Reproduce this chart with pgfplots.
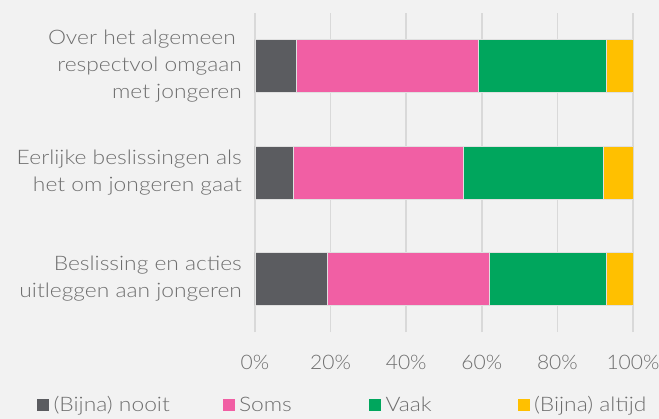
\documentclass[border=0pt]{standalone}
\usepackage{fontspec}
\setmainfont{Lato Light}[FakeStretch=1.14]
\newfontfamily\tickfont{Lato Light}[FakeStretch=1.05]
\usepackage{pgfplots}
\pgfplotsset{compat=1.18}
\usetikzlibrary{backgrounds}
\definecolor{bg}{HTML}{F2F2F2}
\definecolor{gridc}{HTML}{D9D9D9}
\definecolor{txt}{HTML}{6E6E6E}
\definecolor{cnooit}{HTML}{5B5C60}
\definecolor{csoms}{HTML}{F15FA4}
\definecolor{cvaak}{HTML}{00A65D}
\definecolor{caltijd}{HTML}{FFC000}
\newcommand{\lblfont}{\fontsize{20bp}{26.7bp}\selectfont}
\pgfplotsset{
  segment/.style={fill=#1, draw=white!88!black, line width=0.5bp,
    legend image code/.code={\fill[#1] (0bp,-5.5bp) rectangle (11bp,5.5bp);}},
}
\begin{document}
\begin{tikzpicture}
\begin{axis}[
  name=ax,
  scale only axis, width=378bp, height=319bp,
  xbar stacked, bar width=53bp,
  xmin=0, xmax=100, ymin=-0.5, ymax=2.5,
  xtick={0,20,40,60,80,100},
  xticklabels={0\%,20\%,40\%,60\%,80\%,100\%},
  ytick={0,1,2},
  yticklabels={
    {Beslissing en acties\\uitleggen aan jongeren},
    {Eerlijke beslissingen als\\het om jongeren gaat},
    {Over het algemeen\hspace*{6bp}\\respectvol omgaan\hspace*{6bp}\\met jongeren}},
  xmajorgrids, grid style={gridc, line width=1.5bp},
  axis line style={draw=none}, major tick length=0pt,
  tick label style={font=\lblfont, text=txt},
  yticklabel style={align=right, inner sep=0pt, xshift=-13bp},
  xticklabel style={inner sep=0pt, yshift=-23bp, font=\tickfont\fontsize{20bp}{24bp}\selectfont},
  legend columns=4,
  legend style={at={(-0.577,-0.229)}, anchor=west, draw=none, fill=none,
    inner sep=0pt, font=\lblfont, text=txt,
    /tikz/every odd column/.append style={column sep=3bp}},
]
\addplot[segment=cnooit] coordinates {(11,2) (10,1) (19,0)};
\addplot[segment=csoms] coordinates {(48,2) (45,1) (43,0)};
\addplot[segment=cvaak] coordinates {(34,2) (37,1) (31,0)};
\addplot[segment=caltijd] coordinates {(7,2) (8,1) (7,0)};
\legend{\makebox[167bp][l]{(Bijna) nooit},\makebox[128bp][l]{Soms},\makebox[130bp][l]{Vaak},(Bijna) altijd}
\end{axis}
\begin{scope}[on background layer]
\fill[bg] ([xshift=-255bp,yshift=-87bp]ax.south west) rectangle ([xshift=26bp,yshift=13bp]ax.north east);
\end{scope}
\pgfresetboundingbox
\path ([xshift=-255bp,yshift=-87bp]ax.south west) rectangle ([xshift=26bp,yshift=13bp]ax.north east);
\end{tikzpicture}
\end{document}
